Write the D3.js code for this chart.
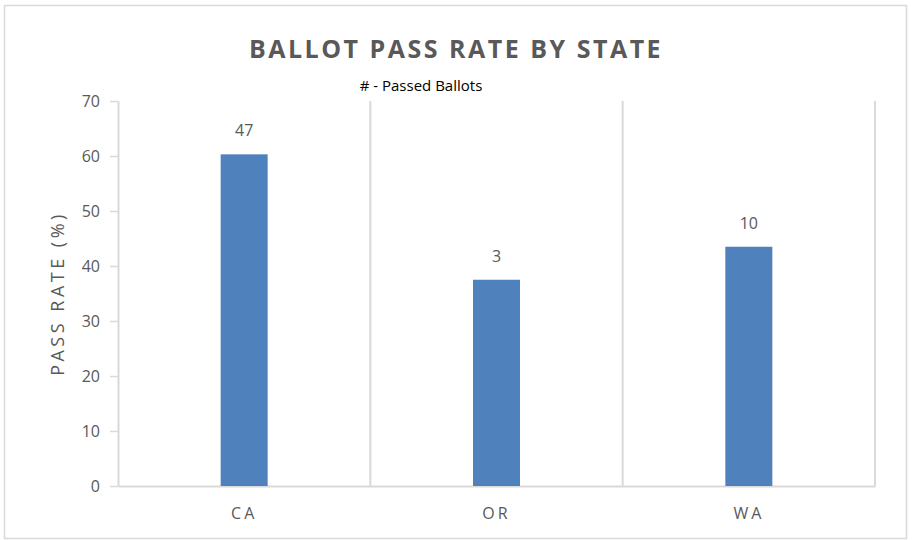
<!DOCTYPE html>
<html>
  <head>
    <meta charset="utf-8">
    <title>Ballot Pass Rate by State</title>
    <script src="https://cdn.jsdelivr.net/npm/d3@7"></script>
    <style>
      body { margin: 0; background: #fff; }
      text { font-family: "Open Sans", sans-serif; }
    </style>
  </head>
  <body>
    <script>
      // chart data
      var states = ["CA", "OR", "WA"];
      var passRate = [60.3, 37.5, 43.5];
      var passedBallots = [47, 3, 10];
      var yTicks = [0, 10, 20, 30, 40, 50, 60, 70];

      var width = 913, height = 540;
      var plotLeft = 118, plotRight = 875, plotTop = 101, plotBottom = 486;
      var grey = "#d9d9d9", textGrey = "#595959";

      var svg = d3.select("body").append("svg")
          .attr("width", width)
          .attr("height", height);

      // outer border
      svg.append("rect")
          .attr("x", 4.5).attr("y", 5.5)
          .attr("width", 902).attr("height", 533)
          .attr("fill", "#fff")
          .attr("stroke", grey).attr("stroke-width", 1.5);

      var x = d3.scaleBand().domain(states).range([plotLeft, plotRight]).padding(0);
      var y = d3.scaleLinear().domain([0, 70]).range([plotBottom, plotTop]);

      // vertical grid lines between categories
      var bounds = states.map(function (s) { return x(s); }).concat([plotRight]);
      svg.selectAll("line.grid")
          .data(bounds.slice(1))
          .enter().append("line")
          .attr("class", "grid")
          .attr("x1", function (d) { return d; })
          .attr("x2", function (d) { return d; })
          .attr("y1", plotTop).attr("y2", plotBottom)
          .attr("stroke", grey).attr("stroke-width", 2);

      // y axis
      var yAxis = svg.append("g")
          .attr("transform", "translate(" + plotLeft + ",0)")
          .call(d3.axisLeft(y).tickValues(yTicks).tickSize(8).tickSizeOuter(0).tickPadding(10));
      yAxis.select(".domain").attr("stroke", grey).attr("stroke-width", 2);
      yAxis.selectAll(".tick line").attr("stroke", grey).attr("stroke-width", 1.5);
      yAxis.selectAll(".tick text")
          .attr("fill", textGrey)
          .style("font-size", "16px");

      // x axis
      var xAxis = svg.append("g")
          .attr("transform", "translate(0," + plotBottom + ")")
          .call(d3.axisBottom(x).tickSize(0).tickPadding(22));
      xAxis.select(".domain").attr("stroke", grey).attr("stroke-width", 2);
      xAxis.selectAll(".tick text")
          .attr("fill", textGrey)
          .style("font-size", "16px")
          .style("letter-spacing", "3px");

      var barW = 47;

      svg.selectAll("rect.bar")
          .data(passRate)
          .enter().append("rect")
          .attr("class", "bar")
          .attr("x", function (d, i) { return x(states[i]) + x.bandwidth() / 2 - barW / 2; })
          .attr("y", function (d) { return y(d); })
          .attr("width", barW)
          .attr("height", function (d) { return plotBottom - y(d); })
          .attr("fill", "#4f81bd");

      svg.selectAll("text.lbl")
          .data(passRate)
          .enter().append("text")
          .attr("class", "lbl")
          .attr("x", function (d, i) { return x(states[i]) + x.bandwidth() / 2; })
          .attr("y", function (d) { return y(d) - 18; })
          .attr("text-anchor", "middle")
          .attr("fill", textGrey)
          .style("font-size", "16px")
          .text(function (d, i) { return passedBallots[i]; });

      // titles
      svg.append("text")
          .attr("x", 456).attr("y", 58)
          .attr("text-anchor", "middle")
          .attr("fill", textGrey)
          .style("font-size", "25px")
          .style("font-weight", "bold")
          .style("letter-spacing", "2.5px")
          .text("BALLOT PASS RATE BY STATE");

      svg.append("text")
          .attr("x", 421).attr("y", 91)
          .attr("text-anchor", "middle")
          .attr("fill", "#000")
          .style("font-size", "15px")
          .text("# - Passed Ballots");

      svg.append("text")
          .attr("transform", "translate(64," + ((plotTop + plotBottom) / 2) + ") rotate(-90)")
          .attr("text-anchor", "middle")
          .attr("fill", textGrey)
          .style("font-size", "18px")
          .style("letter-spacing", "3.5px")
          .text("PASS RATE (%)");
    </script>
  </body>
</html>
